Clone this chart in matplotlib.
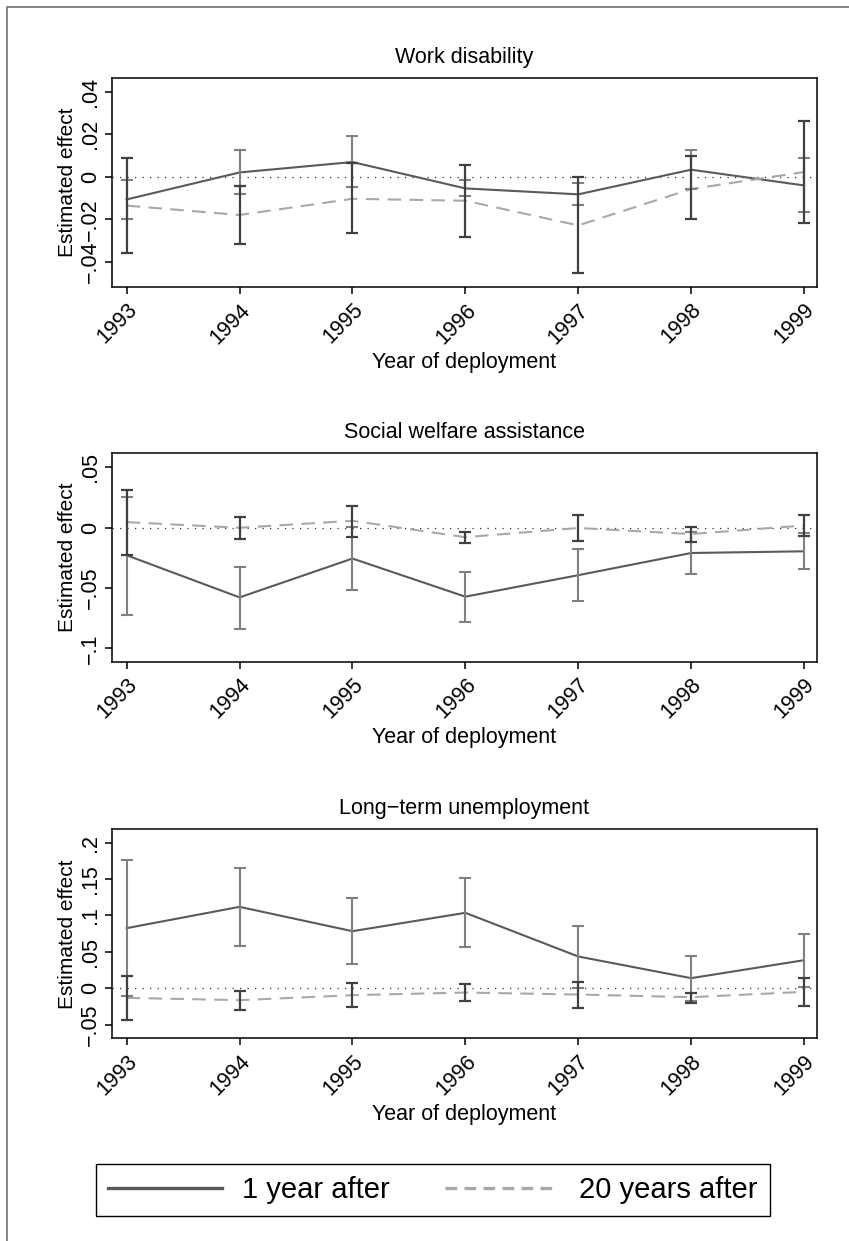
import matplotlib
matplotlib.use("Agg")
import matplotlib.pyplot as plt
import numpy as np
from matplotlib.lines import Line2D
from matplotlib.patches import Rectangle

plt.rcParams['font.family'] = ['Liberation Sans', 'DejaVu Sans']

years = [1993, 1994, 1995, 1996, 1997, 1998, 1999]
titles = ["Work disability", "Social welfare assistance", "Long\u2212term unemployment"]

# point estimates, 1 year after deployment
est_1yr = [
    [-0.0107, 0.0020, 0.0069, -0.0055, -0.0083, 0.0033, -0.0041],
    [-0.0228, -0.0577, -0.0255, -0.0571, -0.0393, -0.0209, -0.0195],
    [0.0826, 0.1119, 0.0784, 0.1037, 0.0436, 0.0138, 0.0385],
]
# point estimates, 20 years after deployment
est_20yr = [
    [-0.0136, -0.0180, -0.0104, -0.0113, -0.0229, -0.0058, 0.0022],
    [0.0047, 0.0000, 0.0058, -0.0078, -0.0002, -0.0052, 0.0019],
    [-0.0133, -0.0165, -0.0096, -0.0060, -0.0087, -0.0124, -0.0050],
]
# confidence intervals (low, high)
ci_1yr_lo = [
    [-0.0199, -0.0083, -0.0050, -0.0093, -0.0133, -0.0060, -0.0168],
    [-0.0725, -0.0835, -0.0519, -0.0777, -0.0610, -0.0382, -0.0344],
    [-0.0110, 0.0587, 0.0326, 0.0569, 0.0009, -0.0179, 0.0018],
]
ci_1yr_hi = [
    [-0.0016, 0.0125, 0.0193, -0.0016, -0.0031, 0.0127, 0.0088],
    [0.0258, -0.0321, 0.0008, -0.0363, -0.0179, -0.0036, -0.0047],
    [0.1761, 0.1651, 0.1234, 0.1514, 0.0862, 0.0440, 0.0748],
]
ci_20yr_lo = [
    [-0.0361, -0.0315, -0.0265, -0.0282, -0.0455, -0.0201, -0.0220],
    [-0.0228, -0.0093, -0.0077, -0.0124, -0.0107, -0.0115, -0.0069],
    [-0.0431, -0.0298, -0.0257, -0.0183, -0.0271, -0.0197, -0.0239],
]
ci_20yr_hi = [
    [0.0088, -0.0044, 0.0064, 0.0055, -0.0002, 0.0096, 0.0262],
    [0.0313, 0.0091, 0.0184, -0.0036, 0.0104, 0.0005, 0.0104],
    [0.0165, -0.0037, 0.0069, 0.0064, 0.0083, -0.0060, 0.0142],
]

ytick_vals = [
    [-0.04, -0.02, 0, 0.02, 0.04],
    [-0.1, -0.05, 0, 0.05],
    [-0.05, 0, 0.05, 0.1, 0.15, 0.2],
]
ytick_labels = [
    ["\u2212.04", "\u2212.02", "0", ".02", ".04"],
    ["\u2212.1", "\u2212.05", "0", ".05"],
    ["\u2212.05", "0", ".05", ".1", ".15", ".2"],
]
ylims = [(-0.0519, 0.0464), (-0.111, 0.0617), (-0.069, 0.2185)]

c_solid = '#5a5a5a'
c_dash = '#a8a8a8'
c_ci1 = '#808080'
c_ci20 = '#404040'

fig = plt.figure(figsize=(8.49, 12.41), dpi=100)

# outer frame
fig.patches.append(Rectangle((7 / 849, -0.5), 2, 1.5 - 7 / 1241, transform=fig.transFigure,
                             fill=False, edgecolor='#707070', linewidth=1.2))

axes_pos = [(0.1319, 0.7687, 0.8304, 0.1684),
            (0.1319, 0.4668, 0.8304, 0.1679),
            (0.1319, 0.1633, 0.8304, 0.1684)]

for i in range(3):
    ax = fig.add_axes(axes_pos[i])
    lo1, hi1 = np.array(ci_1yr_lo[i]), np.array(ci_1yr_hi[i])
    lo2, hi2 = np.array(ci_20yr_lo[i]), np.array(ci_20yr_hi[i])
    m1 = (lo1 + hi1) / 2
    m2 = (lo2 + hi2) / 2

    ax.axhline(0, color='#303030', linestyle=(0, (1, 5)), linewidth=0.9, zorder=1)
    ax.plot(years, est_1yr[i], color=c_solid, linewidth=1.5, zorder=2)
    ax.plot(years, est_20yr[i], color=c_dash, linewidth=1.5, dashes=(6.5, 4), zorder=2)
    ax.errorbar(years, m1, yerr=[m1 - lo1, hi1 - m1], fmt='none', ecolor=c_ci1,
                elinewidth=1.5, capsize=4, capthick=1.5, zorder=3)
    ax.errorbar(years, m2, yerr=[m2 - lo2, hi2 - m2], fmt='none', ecolor=c_ci20,
                elinewidth=1.6, capsize=4, capthick=1.6, zorder=4)

    ax.set_xlim(1992.87, 1999.115)
    ax.set_ylim(*ylims[i])
    ax.set_xticks(years)
    ax.set_xticklabels([str(y) for y in years], rotation=45, ha='right',
                       rotation_mode='anchor', fontsize=15.5)
    ax.set_yticks(ytick_vals[i])
    ax.set_yticklabels(ytick_labels[i], rotation=90, va='center', fontsize=15.5)
    ax.tick_params(axis='both', direction='out', length=5, width=1.1, color='black')
    ax.tick_params(axis='y', pad=3)
    ax.tick_params(axis='x', pad=4)
    for s in ax.spines.values():
        s.set_linewidth(1.1)
    ax.set_title(titles[i], fontsize=15.5, pad=11)
    ax.set_xlabel("Year of deployment", fontsize=15.5, labelpad=3)
    ax.set_ylabel("Estimated effect", fontsize=15, labelpad=2)

handles = [Line2D([], [], color=c_solid, linewidth=2.4),
           Line2D([], [], color=c_dash, linewidth=2.4, dashes=(3.5, 2.2))]
fig.legend(handles, ["1 year after", "20 years after"], loc='center',
           bbox_to_anchor=(0.510, 0.0411), ncol=2, fontsize=21, frameon=True,
           fancybox=False, edgecolor='black', framealpha=1, handlelength=3.9,
           handletextpad=0.7, columnspacing=1.9, borderpad=0.4, borderaxespad=0)

fig.savefig("out.png", dpi=100)
